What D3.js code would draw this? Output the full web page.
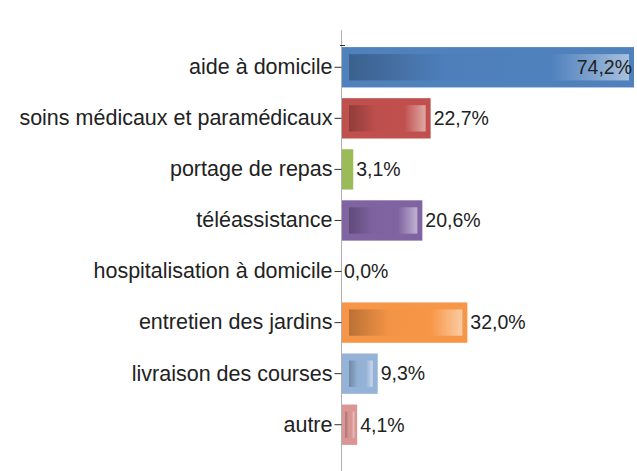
<!DOCTYPE html>
<html>
<head>
<meta charset="utf-8">
<script src="https://cdn.jsdelivr.net/npm/d3@7"></script>
<style>
  body { margin: 0; background: #fff; }
  text { font-family: "Liberation Sans", Arial, sans-serif; }
</style>
</head>
<body>
<div class="chart"></div>
<script>
let categories = ['aide à domicile', 'soins médicaux et paramédicaux', 'portage de repas', 'téléassistance',
  'hospitalisation à domicile', 'entretien des jardins', 'livraison des courses', 'autre'];
let values = [74.2, 22.7, 3.1, 20.6, 0.0, 32.0, 9.3, 4.1];
let colors = ['#4f81bd', '#c0504d', '#9bbb59', '#8064a2', '#4f81bd', '#f79646', '#95b3d7', '#d99694'];

let width = 637, height = 471;
let margin = {top: 42, left: 341};

let svg = d3.select('.chart')
  .append('svg')
  .attr('width', width)
  .attr('height', height);

let xScale = d3.scaleLinear()
  .domain([0, 74.2])
  .range([margin.left, 634]);

let yScale = d3.scaleBand()
  .domain(categories)
  .range([margin.top, margin.top + 51 * categories.length])
  .paddingInner(0.21)
  .paddingOuter(0.1);

let defs = svg.append('defs');
categories.forEach(function(c, i) {
  let base = d3.color(colors[i]);
  let g = defs.append('linearGradient').attr('id', 'grad' + i);
  g.append('stop').attr('offset', '0%').attr('stop-color', base.darker(0.8));
  g.append('stop').attr('offset', '35%').attr('stop-color', base.darker(0.05));
  g.append('stop').attr('offset', '72%').attr('stop-color', base);
  g.append('stop').attr('offset', '100%').attr('stop-color', d3.interpolateRgb(base, '#fff')(0.5));
});

// axis line
svg.append('line')
  .attr('x1', margin.left + 0.5).attr('x2', margin.left + 0.5)
  .attr('y1', 30).attr('y2', height)
  .style('stroke', '#b0b0b0');
svg.append('line')
  .attr('x1', margin.left - 1).attr('x2', margin.left + 4)
  .attr('y1', 45.5).attr('y2', 45.5)
  .style('stroke', '#333');

let yAxis = d3.axisLeft(yScale).tickSize(7).tickPadding(2);
let ax = svg.append('g')
  .attr('transform', 'translate(' + (margin.left + 0.5) + ',0)')
  .call(yAxis);
ax.select('.domain').remove();
ax.selectAll('.tick line').style('stroke', '#333');
ax.selectAll('.tick text')
  .style('font-size', '21.5px')
  .style('fill', '#222');

let bars = svg.selectAll('.bar')
  .data(values)
  .enter()
  .append('g')
  .attr('class', 'bar');

bars.append('rect')
  .attr('x', margin.left + 1)
  .attr('y', (d, i) => yScale(categories[i]))
  .attr('width', d => Math.max(0, xScale(d) - margin.left - 1))
  .attr('height', yScale.bandwidth())
  .style('fill', (d, i) => colors[i]);

bars.filter(d => xScale(d) - margin.left > 14)
  .append('rect')
  .attr('x', d => margin.left + 1 + Math.min(7, (xScale(d) - margin.left) * 0.2))
  .attr('y', (d, i) => yScale(categories[values.indexOf(d)]) + 7)
  .attr('width', function(d) {
    let w = xScale(d) - margin.left - 1;
    let inset = Math.min(7, w * 0.2);
    return Math.max(0, w - inset - Math.min(5, w * 0.2));
  })
  .attr('height', yScale.bandwidth() - 14)
  .style('fill', d => 'url(#grad' + values.indexOf(d) + ')');

bars.append('text')
  .attr('x', d => d > 60 ? xScale(d) - 2 : xScale(d) + 3)
  .attr('y', (d, i) => yScale(categories[i]) + yScale.bandwidth() / 2)
  .attr('dy', '0.35em')
  .attr('text-anchor', d => d > 60 ? 'end' : 'start')
  .style('font-size', '19.5px')
  .style('fill', '#222')
  .text(d => d.toFixed(1).replace('.', ',') + '%');
</script>
</body>
</html>
